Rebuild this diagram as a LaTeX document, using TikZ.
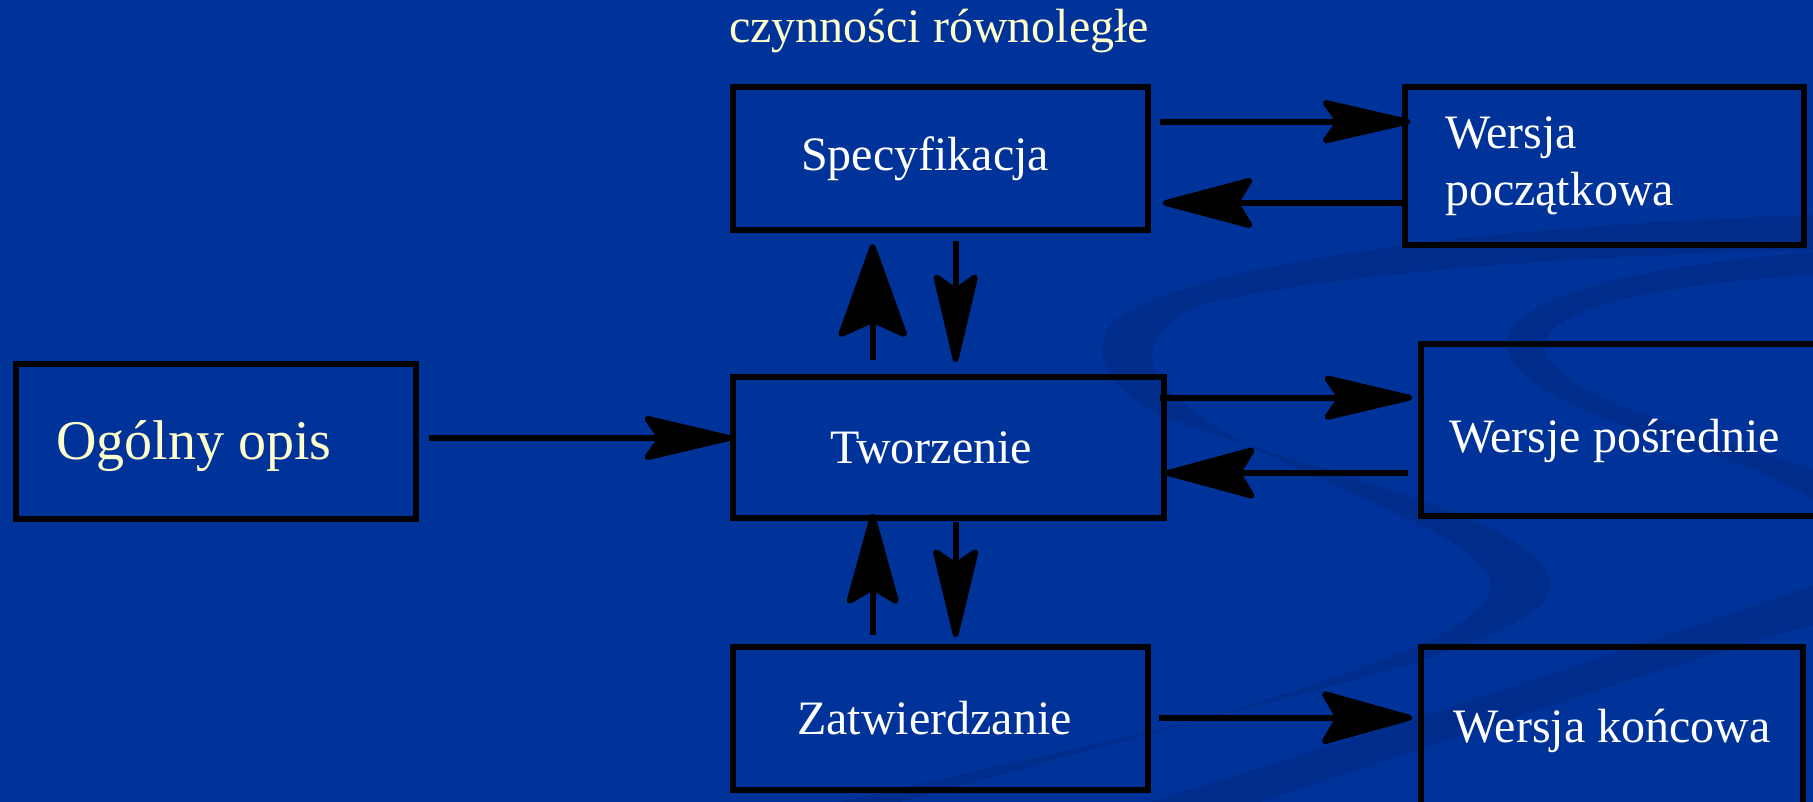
\documentclass[tikz,border=0pt]{standalone}
\usepackage{fontspec}
\setmainfont{Liberation Serif}
\usetikzlibrary{arrows.meta,calc}
\definecolor{slidebg}{RGB}{0,51,153}
\definecolor{ribbon}{RGB}{0,45,140}
\definecolor{paleyellow}{RGB}{255,255,204}
\begin{document}
\begin{tikzpicture}[x=1pt,y=-1pt,
  box/.style={draw=black, line width=6pt, rectangle, inner sep=0pt,
    text=white, font=\fontsize{48}{57}\selectfont},
  conn/.style={line width=6pt, draw=black,
    -{Stealth[length=101pt,width=#1,inset=16pt,round]}},
  conn/.default=50pt]

% page and backdrop
\useasboundingbox (0,0) rectangle (1813,802);
\fill[slidebg] (0,0) rectangle (1813,802);

% decorative ribbons of the slide background
\fill[ribbon] (1813,215) .. controls (1500,225) and (1200,260) .. (1115,320)
  .. controls (1090,345) and (1100,385) .. (1160,415)
  .. controls (1300,470) and (1560,520) .. (1550,590)
  .. controls (1540,650) and (1200,720) .. (840,802)
  -- (900,802)
  .. controls (1200,720) and (1480,650) .. (1490,590)
  .. controls (1500,530) and (1250,470) .. (1180,400)
  .. controls (1140,370) and (1140,330) .. (1200,305)
  .. controls (1350,270) and (1600,255) .. (1813,250) -- cycle;
\fill[ribbon] (1813,252) .. controls (1650,265) and (1540,290) .. (1510,330)
  .. controls (1490,370) and (1560,410) .. (1700,450)
  .. controls (1760,470) and (1800,490) .. (1813,500) -- (1813,470)
  .. controls (1700,430) and (1560,400) .. (1545,350)
  .. controls (1540,310) and (1650,285) .. (1813,275) -- cycle;
\fill[ribbon] (1813,585) .. controls (1600,660) and (1350,740) .. (1150,802)
  -- (1260,802) .. controls (1450,740) and (1650,670) .. (1813,625) -- cycle;

% boxes
\node[box, minimum width=400.5pt, minimum height=155.5pt, text=paleyellow,
  font=\fontsize{56}{64}\selectfont, text height=47pt, text depth=12pt]
  (ogolny) at (216,441.5) {Ogólny opis\hspace*{44pt}};
\node[box, minimum width=415pt, minimum height=143pt]
  (spec) at (940.5,158.5) {Specyfikacja\hspace*{31pt}};
\node[box, minimum width=431pt, minimum height=141pt]
  (twor) at (948.5,447.5) {Tworzenie\hspace*{35pt}};
\node[box, minimum width=415pt, minimum height=143pt]
  (zatw) at (940.5,718.5) {Zatwierdzanie\hspace*{12pt}};
\node[box, minimum width=399pt, minimum height=158pt, text width=319pt, align=left]
  (wp) at (1604.5,166) {Wersja\\początkowa};
\node[box, minimum width=409pt, minimum height=172pt, text height=54pt, text depth=10pt]
  (wpos) at (1625.5,430) {Wersje pośrednie\hspace*{22pt}};
\node[box, minimum width=382pt, minimum height=168pt]
  (wk) at (1612,731) {Wersja końcowa};

% heading over the middle column
\node[text=paleyellow, font=\fontsize{48}{57}\selectfont, inner sep=0pt,
  anchor=base west] (title) at (729,43) {czynności równoległe};

% connectors
\draw[conn=47pt] ($(ogolny.east)+(10,-3.5)$) -- ($(twor.west)+(2,-9.5)$);
\draw[conn=46pt] ($(spec.east)+(9,-36.8)$) -- ($(wp.west)+(8,-44.3)$);
\draw[conn=53pt] ($(wp.west)+(6,37)$) -- ($(spec.east)+(12,44.5)$);
\draw[conn=47pt] ($(twor.east)+(-7,-49.8)$) -- ($(wpos.west)+(-6,-32.3)$);
\draw[conn=54pt] ($(wpos.west)+(-10,43)$) -- ($(twor.east)+(-2,25.5)$);
\draw[conn=56pt] ($(zatw.east)+(8,-0.8)$) -- ($(wk.west)+(-6,-13.3)$);
\draw[conn=72pt] ($(twor.north)+(-75.8,-14)$) -- ($(spec.south)+(-67.8,11)$);
\draw[conn=47pt] ($(spec.south)+(15.2,8)$) -- ($(twor.north)+(7.2,-12)$);
\draw[conn=55pt] ($(zatw.north)+(-67.8,-9)$) -- ($(twor.south)+(-75.8,-7)$);
\draw[conn=48pt] ($(twor.south)+(7.2,1)$) -- ($(zatw.north)+(15.2,-7)$);
\end{tikzpicture}
\end{document}
